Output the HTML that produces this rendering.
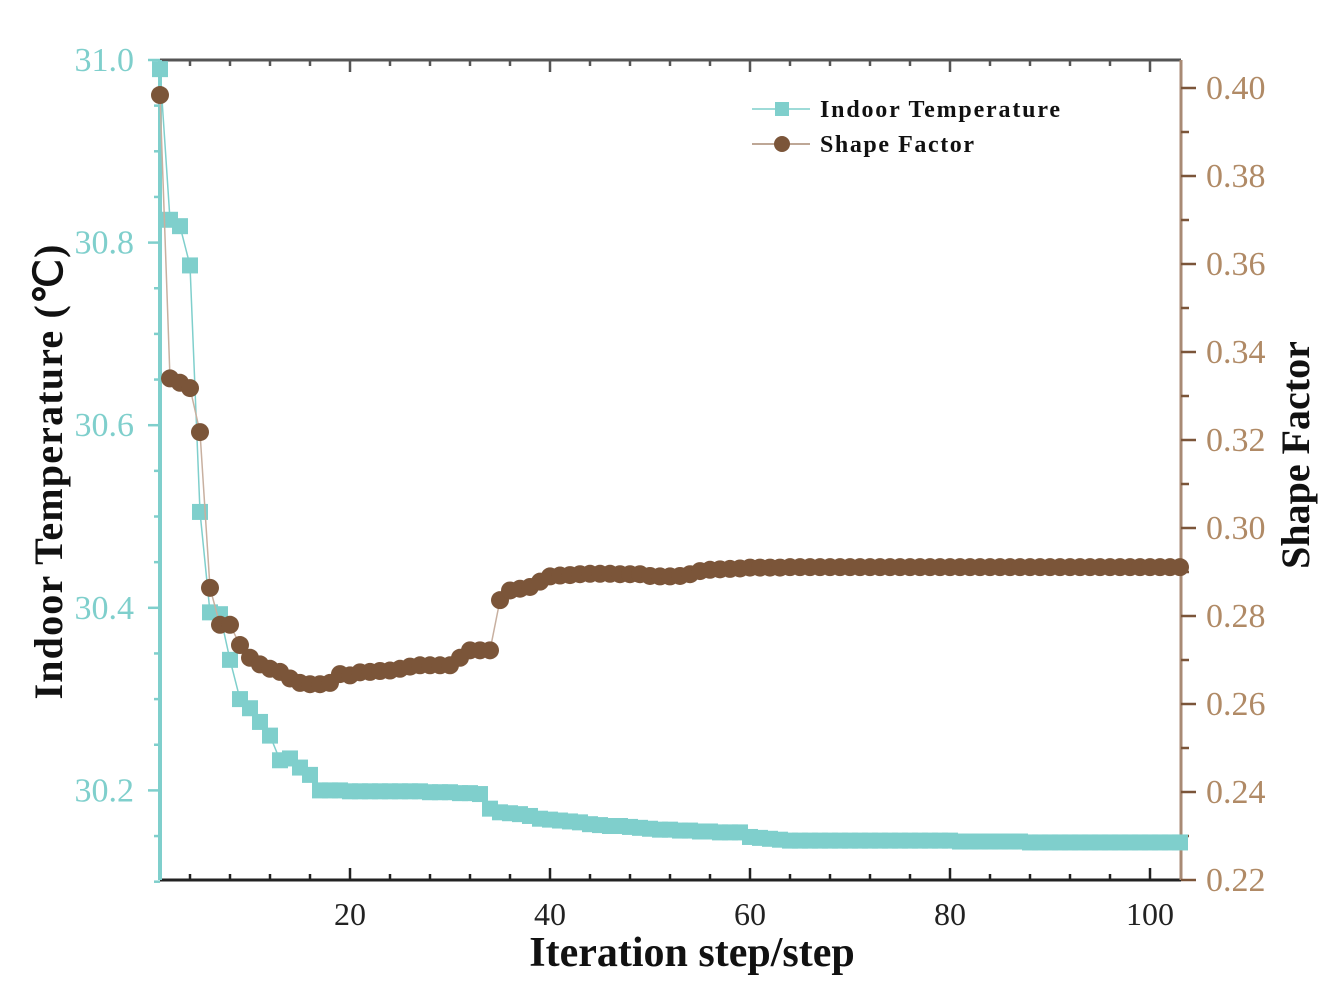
<!DOCTYPE html>
<html><head><meta charset="utf-8"><style>
html,body{margin:0;padding:0;background:#fff;}
svg{display:block;font-family:"Liberation Serif",serif;}
</style></head><body>
<svg id="chart" width="1342" height="992" viewBox="0 0 1342 992"></svg>
<script>
const steps = [];
for (let i = 1; i <= 103; i++) steps.push(i);
const tempValues = [30.99,30.825,30.818,30.775,30.505,30.395,30.393,30.343,30.30,30.29,30.275,30.26,30.233,30.235,30.225,30.217,30.200,30.200,30.200,30.199,30.199,30.199,30.199,30.199,30.199,30.199,30.199,30.198,30.198,30.198,30.197,30.197,30.196,30.180,30.176,30.175,30.174,30.172,30.169,30.168,30.167,30.166,30.165,30.163,30.162,30.161,30.161,30.160,30.159,30.158,30.157,30.157,30.156,30.156,30.155,30.155,30.154,30.154,30.154,30.149,30.148,30.147,30.146,30.145,30.145,30.145,30.145,30.145,30.145,30.145,30.145,30.145,30.145,30.145,30.145,30.145,30.145,30.145,30.145,30.145,30.144,30.144,30.144,30.144,30.144,30.144,30.144,30.143,30.143,30.143,30.143,30.143,30.143,30.143,30.143,30.143,30.143,30.143,30.143,30.143,30.143,30.143,30.143];
const shapeValues = [0.3984,0.334,0.333,0.3318,0.3218,0.2864,0.278,0.278,0.2734,0.2705,0.269,0.268,0.2673,0.2658,0.2648,0.2645,0.2645,0.2648,0.2668,0.2665,0.2672,0.2673,0.2675,0.2676,0.268,0.2685,0.2688,0.2688,0.2688,0.2688,0.2705,0.2722,0.2722,0.2722,0.2836,0.2858,0.2862,0.2866,0.2878,0.289,0.2892,0.2893,0.2895,0.2896,0.2896,0.2896,0.2895,0.2895,0.2895,0.2891,0.289,0.289,0.2891,0.2895,0.2902,0.2905,0.2906,0.2907,0.2908,0.291,0.291,0.291,0.291,0.2911,0.2911,0.2911,0.2911,0.2911,0.2911,0.2911,0.2911,0.2911,0.2911,0.2911,0.2911,0.2911,0.2911,0.2911,0.2911,0.2911,0.2911,0.2911,0.2911,0.2911,0.2911,0.2911,0.2911,0.2911,0.2911,0.2911,0.2911,0.2911,0.2911,0.2911,0.2911,0.2911,0.2911,0.2911,0.2911,0.2911,0.2911,0.2911,0.2911];
const xTicks = [20,40,60,80,100];
const leftTicks = [30.2,30.4,30.6,30.8,31.0];
const rightTicks = [0.22,0.24,0.26,0.28,0.30,0.32,0.34,0.36,0.38,0.40];

const NS = "http://www.w3.org/2000/svg";
const svg = document.getElementById('chart');
const L = 160, R = 1181, T = 60, B = 880;
const xS = v => L + (v - 1) * 10;
const yL = v => T + (31.0 - v) * 913;
const yR = v => 88 + (0.40 - v) * 4400;
const TEAL = "#7fcfcc", BROWN = "#7b5539", RLAB = "#b08a66";
function mk(tag, attrs, parent) {
  const e = document.createElementNS(NS, tag);
  for (const k in attrs) e.setAttribute(k, attrs[k]);
  (parent || svg).appendChild(e);
  return e;
}
const axes = mk('g', {});


mk('line', {x1:L,y1:T,x2:R,y2:T,stroke:'#555','stroke-width':3}, axes);
mk('line', {x1:L,y1:B,x2:R,y2:B,stroke:'#222','stroke-width':3}, axes);
for (let s = 4; s <= 102; s += 4) {
  const major = s % 20 === 0;
  const len = major ? 12 : 6;
  mk('line', {x1:xS(s),y1:B,x2:xS(s),y2:B-len,stroke:'#222','stroke-width':2.5}, axes);
  mk('line', {x1:xS(s),y1:T,x2:xS(s),y2:T+len,stroke:'#555','stroke-width':2.5}, axes);
}
xTicks.forEach(v => {
  const t = mk('text', {x:xS(v),y:925,'font-size':32,'text-anchor':'middle',fill:'#222'}, axes);
  
  
  t.textContent = v;
});
mk('line', {x1:L,y1:T,x2:L,y2:B,stroke:TEAL,'stroke-width':4}, axes);
for (let v = 30.1; v <= 31.001; v += 0.05) {
  const major = Math.abs(Math.round(v*10) - v*10) < 0.01 && Math.round(v*10) % 2 === 0;
  mk('line', {x1:L,y1:yL(v),x2:L-(major?12:6),y2:yL(v),stroke:TEAL,'stroke-width':2.5}, axes);
}
leftTicks.forEach(v => {
  const t = mk('text', {x:134,y:yL(v)+11,'font-size':34,'text-anchor':'end',fill:TEAL}, axes);
  
  
  t.textContent = v.toFixed(1);
});
mk('line', {x1:R,y1:T,x2:R,y2:B,stroke:'#a88a74','stroke-width':3}, axes);
for (let v = 0.22; v <= 0.4051; v += 0.01) {
  const major = Math.round(v*100) % 2 === 0;
  mk('line', {x1:R,y1:yR(v),x2:R+(major?15:8),y2:yR(v),stroke:BROWN,'stroke-width':2.5}, axes);
}
rightTicks.forEach(v => {
  const t = mk('text', {x:1206,y:yR(v)+11,'font-size':34,fill:RLAB}, axes);
  
  
  t.textContent = v.toFixed(2);
});
const xt = mk('text', {x:692,y:966,'font-size':42,'font-weight':'bold','text-anchor':'middle',fill:'#111'});


xt.textContent = 'Iteration step/step';
const yt = mk('text', {x:0,y:0,'font-size':40,'font-weight':'bold','text-anchor':'middle',fill:'#111',textLength:455,transform:'translate(62,472) rotate(-90)'});


yt.textContent = 'Indoor Temperature (℃)';
const rt = mk('text', {x:0,y:0,'font-size':40,'font-weight':'bold','text-anchor':'middle',fill:'#111',transform:'translate(1309,455) rotate(-90)'});


rt.textContent = 'Shape Factor';
const tg = mk('g', {});


mk('polyline', {points: steps.map((s,i)=>xS(s)+','+yL(tempValues[i])).join(' '), fill:'none', stroke:TEAL,'stroke-width':1.5}, tg);
steps.forEach((s,i) => {
  const r = mk('rect', {x:xS(s)-8,y:yL(tempValues[i])-8,width:16,height:16,fill:TEAL}, tg);
  
  
});
const sg = mk('g', {});


mk('polyline', {points: steps.map((s,i)=>xS(s)+','+yR(shapeValues[i])).join(' '), fill:'none', stroke:'#c8b0a0','stroke-width':1.5}, sg);
steps.forEach((s,i) => {
  const c = mk('circle', {cx:xS(s),cy:yR(shapeValues[i]),r:9,fill:BROWN}, sg);
  
  
});
const lg = mk('g', {});


mk('line', {x1:752,y1:109,x2:810,y2:109,stroke:TEAL,'stroke-width':1.5}, lg);
mk('rect', {x:775,y:102,width:14,height:14,fill:TEAL}, lg);
const l1 = mk('text', {x:820,y:117,'font-size':24,'font-weight':'bold',fill:'#111',textLength:240}, lg);


l1.textContent = 'Indoor Temperature';
mk('line', {x1:752,y1:144,x2:810,y2:144,stroke:'#a88a74','stroke-width':1.5}, lg);
mk('circle', {cx:782,cy:144,r:8,fill:BROWN}, lg);
const l2 = mk('text', {x:820,y:152,'font-size':24,'font-weight':'bold',fill:'#111',textLength:154}, lg);


l2.textContent = 'Shape Factor';
</script>
</body></html>
